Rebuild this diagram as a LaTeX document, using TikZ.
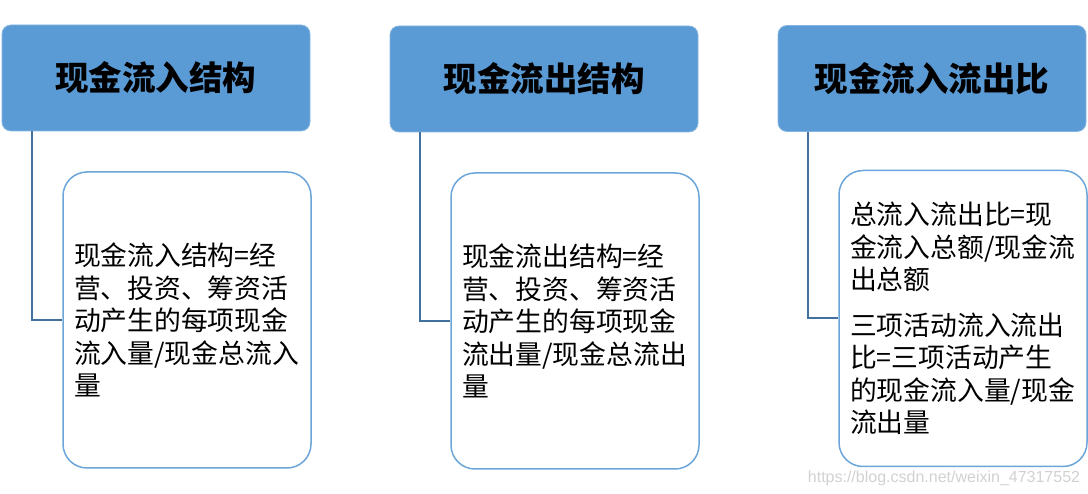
\documentclass[tikz,border=0pt]{standalone}
\usepackage{fontspec}
\setmainfont{Noto Sans CJK SC}
\newfontfamily\wmfont{Liberation Sans}
\usepackage{tikz}
\usepackage{xcolor}
\definecolor{headblue}{HTML}{5B9BD5}
\definecolor{linkblue}{HTML}{41719C}

\begin{document}
\begin{tikzpicture}[x=1pt, y=-1pt,
    header/.style={rectangle, draw=headblue!75!white, line width=0.8pt, fill=headblue, rounded corners=9pt,
        minimum width=308pt, minimum height=106pt, inner sep=0pt,
        font=\fontsize{33.5}{38}\selectfont\bfseries},
    detail/.style={rectangle, draw=headblue!90!white, line width=1.5pt, fill=white, rounded corners=24pt,
        minimum width=248pt, minimum height=296pt, text width=226pt, inner xsep=11pt, align=left,
        font=\fontsize{26.8}{32.5}\selectfont},
    link/.style={draw=linkblue, line width=2pt}]

    \useasboundingbox (0,0) rectangle (1088,494);

    % Headers
    \node[header] (inflow) at (156,78) {现金流入结构};
    \node[header] (outflow) at (544,79) {现金流出结构};
    \node[header] (ratio) at (932,78.5) {现金流入流出比};

    % Details
    \node[detail] (inflowtxt) at (187,320) {现金流入结构=经\\营、投资、筹资活\\动产生的每项现金\\流入量/现金总流入\\量};
    \node[detail] (outflowtxt) at (575,321) {现金流出结构=经\\营、投资、筹资活\\动产生的每项现金\\流出量/现金总流出\\量};
    \node[detail] (ratiotxt) at (963,318.5) {总流入流出比=现\\金流入总额/现金流\\出总额\\[13pt]三项活动流入流出\\比=三项活动产生\\的现金流入量/现金\\流出量};

    % Connections
    \draw[link] ([xshift=30pt]inflow.south west) |- (inflowtxt.west);
    \draw[link] ([xshift=30pt]outflow.south west) |- (outflowtxt.west);
    \draw[link] ([xshift=30pt]ratio.south west) |- (ratiotxt.west);

    % Watermark
    \node[text=black!18, font=\wmfont\fontsize{16}{19}\selectfont, inner sep=0pt] (wm) at (944,478) {https://blog.csdn.net/weixin\_47317552};
\end{tikzpicture}
\end{document}
